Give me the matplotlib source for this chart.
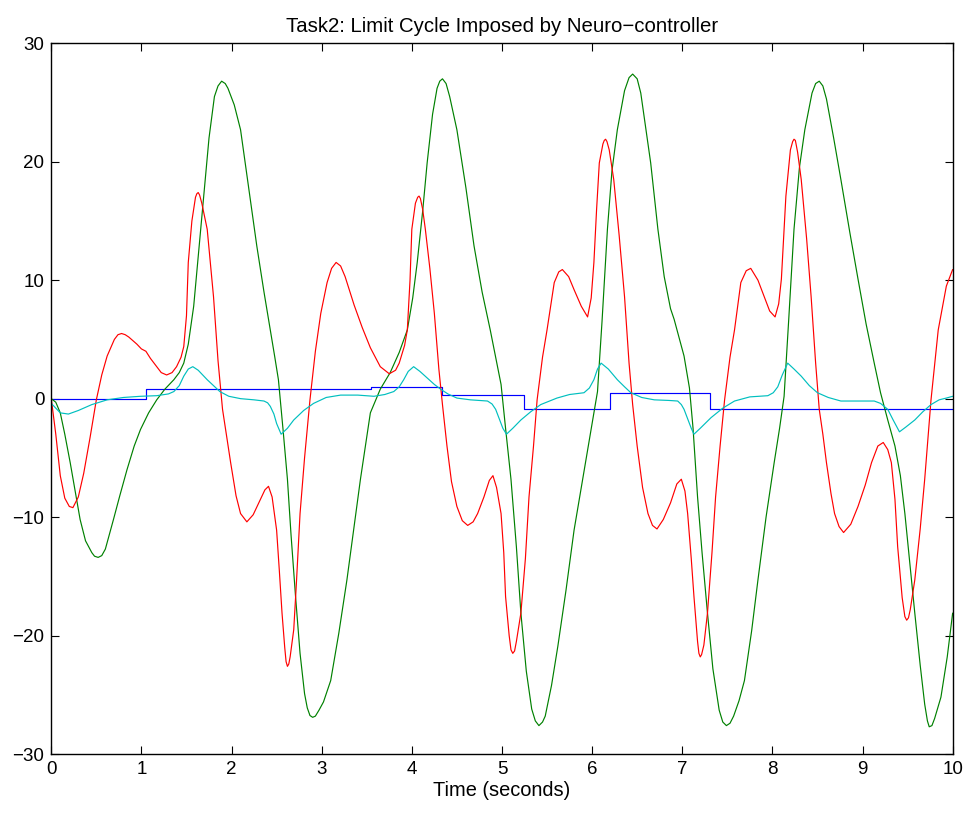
import matplotlib
matplotlib.use("Agg")
import matplotlib.pyplot as plt

# ---- controller output (piecewise constant) ----
step_times = [0.0, 1.05, 3.55, 4.33, 5.24, 6.20, 7.31, 10.0]
step_levels = [0.0, 0.85, 1.0, 0.3, -0.85, 0.45, -0.85]

# ---- state trajectories, (time, value) samples ----
green_pts = [
    (0.00, 0.0), (0.05, -0.3), (0.10, -1.2), (0.15, -3.0), (0.21, -5.4), (0.27, -8.0), (0.32, -10.2),
    (0.38, -12.0), (0.45, -13.0), (0.48, -13.3), (0.52, -13.4), (0.56, -13.25), (0.60, -12.7),
    (0.69, -10.2), (0.76, -8.2), (0.84, -6.0), (0.92, -4.0), (0.99, -2.6), (1.08, -1.2), (1.17, -0.1),
    (1.26, 0.8), (1.36, 1.6), (1.42, 2.2), (1.47, 3.0), (1.52, 4.6), (1.58, 7.8), (1.63, 12.0),
    (1.69, 17.1), (1.75, 22.0), (1.81, 25.5), (1.85, 26.4), (1.89, 26.8), (1.93, 26.6), (1.96, 26.2),
    (2.03, 24.8), (2.10, 22.7), (2.19, 17.8), (2.28, 12.9), (2.36, 9.0), (2.43, 5.8), (2.48, 3.5),
    (2.52, 1.6), (2.57, -2.5), (2.62, -6.8), (2.66, -11.5), (2.71, -16.7), (2.76, -21.5),
    (2.81, -24.9), (2.84, -26.1), (2.87, -26.75), (2.90, -26.9), (2.93, -26.8), (2.97, -26.3),
    (3.02, -25.6), (3.10, -23.8), (3.19, -19.8), (3.28, -15.3), (3.36, -10.8), (3.43, -6.8),
    (3.54, -1.2), (3.65, 0.8), (3.76, 2.2), (3.86, 3.9), (3.95, 5.8), (4.01, 8.5), (4.06, 11.5),
    (4.12, 15.8), (4.17, 19.9), (4.23, 24.0), (4.28, 26.2), (4.31, 26.8), (4.34, 27.0), (4.38, 26.6),
    (4.42, 25.5), (4.50, 22.7), (4.60, 17.8), (4.69, 12.9), (4.78, 9.0), (4.87, 5.8), (4.93, 3.5),
    (4.99, 1.2), (5.04, -2.5), (5.10, -6.8), (5.16, -12.5), (5.21, -18.1), (5.27, -23.0),
    (5.33, -26.2), (5.37, -27.2), (5.41, -27.6), (5.45, -27.3), (5.48, -26.8), (5.55, -24.2),
    (5.62, -20.9), (5.71, -16.2), (5.80, -11.1), (5.90, -6.6), (5.99, -2.6), (6.06, 0.6), (6.11, 6.5),
    (6.17, 14.3), (6.22, 19.2), (6.28, 22.7), (6.36, 26.0), (6.41, 27.1), (6.45, 27.4), (6.50, 27.0),
    (6.54, 25.8), (6.60, 22.6), (6.65, 19.9), (6.73, 14.3), (6.80, 10.3), (6.87, 7.6), (6.91, 6.7),
    (6.97, 5.0), (7.02, 3.6), (7.08, 0.9), (7.12, -2.5), (7.17, -8.3), (7.22, -13.0), (7.28, -18.1),
    (7.34, -22.8), (7.41, -26.3), (7.45, -27.3), (7.49, -27.6), (7.53, -27.4), (7.57, -26.8),
    (7.63, -25.5), (7.69, -23.8), (7.77, -19.6), (7.84, -15.3), (7.93, -10.0), (8.02, -5.4),
    (8.08, -2.5), (8.13, 0.2), (8.18, 6.5), (8.24, 14.3), (8.30, 19.5), (8.36, 22.7), (8.44, 25.8),
    (8.48, 26.6), (8.52, 26.8), (8.56, 26.4), (8.60, 25.3), (8.68, 22.0), (8.76, 18.5), (8.86, 14.0),
    (8.95, 10.1), (9.04, 6.3), (9.13, 3.0), (9.20, 0.5), (9.28, -1.8), (9.36, -4.0), (9.42, -6.5),
    (9.47, -9.7), (9.52, -13.5), (9.58, -18.1), (9.64, -22.5), (9.69, -25.8), (9.72, -27.2),
    (9.74, -27.7), (9.77, -27.6), (9.80, -27.0), (9.87, -25.2), (9.94, -21.8), (10.00, -18.1),
]

red_pts = [
    (0.00, 0.0), (0.05, -3.0), (0.10, -6.5), (0.15, -8.4), (0.20, -9.1), (0.24, -9.2), (0.30, -8.3),
    (0.36, -6.3), (0.43, -3.3), (0.50, -0.1), (0.56, 2.0), (0.62, 3.6), (0.70, 5.0), (0.74, 5.4),
    (0.78, 5.5), (0.82, 5.4), (0.86, 5.2), (0.95, 4.6), (1.00, 4.2), (1.05, 4.0), (1.10, 3.4),
    (1.17, 2.7), (1.22, 2.2), (1.28, 2.0), (1.34, 2.2), (1.39, 2.7), (1.44, 3.5), (1.47, 4.4),
    (1.50, 7.0), (1.52, 11.5), (1.56, 15.0), (1.60, 17.0), (1.615, 17.3), (1.63, 17.4),
    (1.645, 17.2), (1.67, 16.5), (1.73, 14.3), (1.80, 8.6), (1.85, 3.2), (1.90, -0.9), (1.99, -5.4),
    (2.05, -8.2), (2.10, -9.7), (2.17, -10.4), (2.24, -9.8), (2.32, -8.5), (2.37, -7.7), (2.41, -7.4),
    (2.45, -8.3), (2.50, -11.1), (2.53, -14.5), (2.56, -18.1), (2.59, -21.0), (2.605, -22.2),
    (2.62, -22.6), (2.635, -22.4), (2.65, -21.8), (2.69, -19.5), (2.72, -15.5), (2.76, -9.7),
    (2.81, -5.0), (2.87, -0.1), (2.93, 4.0), (2.99, 7.2), (3.06, 9.8), (3.11, 11.0), (3.16, 11.5),
    (3.21, 11.2), (3.26, 10.3), (3.36, 7.9), (3.45, 6.0), (3.54, 4.3), (3.65, 2.7), (3.75, 2.1),
    (3.82, 2.4), (3.86, 3.0), (3.92, 4.5), (3.95, 5.8), (3.98, 10.0), (4.00, 14.3), (4.04, 16.5),
    (4.065, 17.0), (4.08, 17.1), (4.095, 16.9), (4.12, 16.0), (4.15, 14.3), (4.20, 11.0), (4.25, 7.2),
    (4.30, 2.5), (4.34, -0.5), (4.39, -4.0), (4.44, -7.0), (4.50, -9.1), (4.56, -10.3), (4.62, -10.7),
    (4.68, -10.4), (4.73, -9.7), (4.80, -8.3), (4.86, -6.9), (4.90, -6.5), (4.94, -7.5), (4.99, -9.7),
    (5.02, -13.0), (5.04, -16.7), (5.08, -20.0), (5.10, -21.2), (5.12, -21.5), (5.14, -21.3),
    (5.16, -20.5), (5.21, -18.1), (5.26, -13.5), (5.30, -8.3), (5.35, -4.0), (5.39, -0.1), (5.45, 3.5),
    (5.50, 5.8), (5.58, 9.8), (5.63, 10.7), (5.67, 10.9), (5.74, 10.3), (5.80, 9.2), (5.88, 7.8),
    (5.95, 6.9), (5.99, 8.5), (6.02, 11.5), (6.05, 16.0), (6.08, 19.9), (6.12, 21.5), (6.135, 21.8),
    (6.15, 21.9), (6.165, 21.7), (6.19, 21.0), (6.24, 18.5), (6.30, 13.8), (6.36, 8.6), (6.41, 3.0),
    (6.45, -0.5), (6.50, -4.0), (6.56, -7.5), (6.62, -9.7), (6.67, -10.7), (6.72, -11.0),
    (6.79, -10.2), (6.87, -8.8), (6.94, -7.2), (6.99, -6.8), (7.03, -7.8), (7.06, -9.7), (7.10, -13.5),
    (7.13, -16.7), (7.17, -20.5), (7.185, -21.5), (7.20, -21.8), (7.215, -21.6), (7.24, -20.8),
    (7.28, -18.1), (7.33, -13.0), (7.37, -8.3), (7.42, -4.0), (7.47, -0.1), (7.53, 3.5), (7.58, 5.8),
    (7.65, 9.8), (7.71, 10.8), (7.76, 11.0), (7.84, 10.0), (7.91, 8.6), (7.97, 7.4), (8.03, 6.9),
    (8.07, 8.0), (8.10, 10.1), (8.15, 17.1), (8.20, 21.0), (8.225, 21.7), (8.24, 21.9), (8.255, 21.8),
    (8.28, 20.8), (8.32, 18.5), (8.38, 13.5), (8.43, 8.6), (8.48, 3.0), (8.52, -0.9), (8.56, -3.0),
    (8.60, -5.4), (8.65, -8.0), (8.69, -9.7), (8.74, -10.8), (8.79, -11.3), (8.87, -10.6),
    (8.95, -9.1), (9.03, -7.3), (9.10, -5.4), (9.17, -4.0), (9.23, -3.7), (9.28, -4.3), (9.32, -5.4),
    (9.36, -8.5), (9.39, -12.5), (9.44, -16.8), (9.47, -18.4), (9.49, -18.7), (9.51, -18.5),
    (9.53, -17.8), (9.58, -15.3), (9.64, -11.0), (9.69, -6.8), (9.76, -0.1), (9.84, 5.8),
    (9.93, 9.5), (10.00, 10.9),
]

cyan_pts = [
    (0.00, -0.4), (0.05, -0.8), (0.10, -1.2), (0.19, -1.3), (0.30, -1.0), (0.45, -0.5), (0.62, -0.1),
    (0.80, 0.1), (0.99, 0.2), (1.17, 0.25), (1.30, 0.4), (1.36, 0.6), (1.42, 1.1), (1.47, 1.9),
    (1.52, 2.5), (1.57, 2.7), (1.63, 2.4), (1.73, 1.6), (1.80, 1.1), (1.87, 0.6), (1.97, 0.2),
    (2.10, 0.0), (2.25, -0.1), (2.36, -0.2), (2.40, -0.35), (2.43, -0.65), (2.47, -1.3), (2.50, -2.1),
    (2.55, -3.0), (2.62, -2.5), (2.69, -1.8), (2.80, -1.0), (2.91, -0.4), (3.05, 0.1), (3.21, 0.3),
    (3.40, 0.3), (3.58, 0.2), (3.70, 0.35), (3.80, 0.6), (3.86, 1.0), (3.91, 1.6), (3.96, 2.3),
    (4.02, 2.7), (4.09, 2.3), (4.17, 1.75), (4.25, 1.2), (4.32, 0.8), (4.40, 0.4), (4.50, 0.05),
    (4.65, -0.1), (4.84, -0.2), (4.89, -0.45), (4.93, -0.9), (4.97, -1.7), (5.01, -2.5), (5.05, -3.0),
    (5.12, -2.5), (5.21, -1.8), (5.32, -1.1), (5.43, -0.5), (5.61, 0.05), (5.75, 0.35), (5.91, 0.5),
    (5.97, 0.9), (6.02, 1.6), (6.06, 2.5), (6.10, 3.0), (6.18, 2.5), (6.28, 1.6), (6.36, 1.0),
    (6.43, 0.5), (6.55, 0.1), (6.69, -0.1), (6.85, -0.15), (6.95, -0.2), (6.99, -0.5), (7.02, -0.9),
    (7.06, -1.7), (7.10, -2.5), (7.13, -3.0), (7.20, -2.5), (7.32, -1.6), (7.45, -0.8), (7.58, -0.2),
    (7.75, 0.15), (7.95, 0.25), (8.01, 0.5), (8.06, 1.0), (8.11, 2.0), (8.17, 3.0), (8.24, 2.5),
    (8.32, 1.9), (8.41, 1.1), (8.50, 0.5), (8.62, 0.1), (8.76, -0.2), (8.95, -0.2), (9.13, -0.2),
    (9.20, -0.4), (9.28, -0.9), (9.34, -1.8), (9.41, -2.8), (9.48, -2.4), (9.58, -1.8), (9.67, -1.1),
    (9.76, -0.5), (9.85, -0.1), (9.93, 0.05), (10.00, 0.2),
]

green_t, green_v = zip(*green_pts)
red_t, red_v = zip(*red_pts)
cyan_t, cyan_v = zip(*cyan_pts)

plt.rcParams['font.family'] = ['Liberation Sans', 'DejaVu Sans']

fig = plt.figure(figsize=(9.71, 8.15), dpi=100)
ax = fig.add_axes([0.0528, 0.0748, 0.9283, 0.8721])

lw = 0.85
style = dict(lw=lw, solid_joinstyle='round', solid_capstyle='round')
ax.step(step_times, step_levels + [step_levels[-1]], where='post', color=(0, 0, 1), **style)
ax.plot(green_t, green_v, color=(0, 0.5, 0), **style)
ax.plot(red_t, red_v, color=(1, 0, 0), **style)
ax.plot(cyan_t, cyan_v, color=(0, 0.75, 0.75), **style)

ax.set_xlim(0, 10)
ax.set_ylim(-30, 30)
ax.set_xticks(range(0, 11))
ax.set_yticks(range(-30, 31, 10))
ax.tick_params(direction='in', top=True, right=True, length=6, width=0.8,
               labelsize=13.5, pad=5)
for s in ax.spines.values():
    s.set_linewidth(1.0)

ax.set_title('Task2: Limit Cycle Imposed by Neuro\u2212controller', fontsize=14.7, pad=8)
ax.set_xlabel('Time (seconds)', fontsize=14.4, labelpad=2)

fig.savefig('out.png', dpi=100)
